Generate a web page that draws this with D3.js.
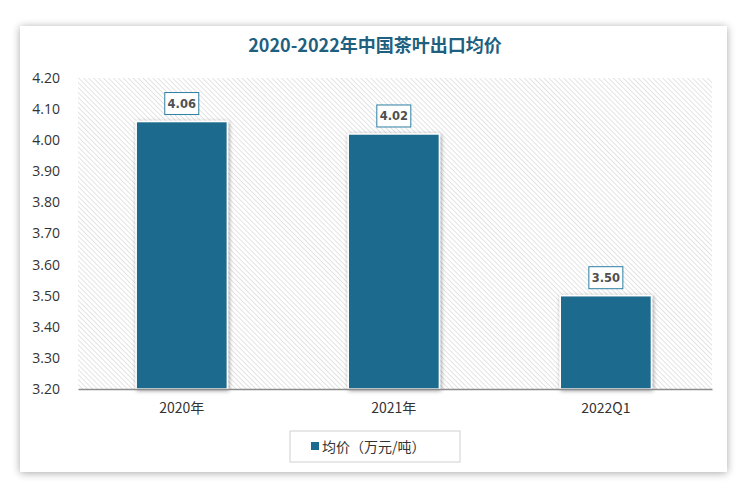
<!DOCTYPE html>
<html><head><meta charset="utf-8">
<script src="https://cdn.jsdelivr.net/npm/d3@7"></script>
<style>body{margin:0;background:#fff;} svg{display:block;}</style>
</head><body>
<script>
const categories = ["2020年", "2021年", "2022Q1"];
const values = [4.06, 4.02, 3.50];
const yTicks = [3.2, 3.3, 3.4, 3.5, 3.6, 3.7, 3.8, 3.9, 4.0, 4.1, 4.2];
const title = "2020-2022年中国茶叶出口均价";
const seriesName = "均价（万元/吨）";

const W = 750, H = 491;
const svg = d3.select("body").append("svg").attr("width", W).attr("height", H);
const defs = svg.append("defs");
const f = defs.append("filter").attr("id","sh").attr("x","-10%").attr("y","-10%").attr("width","120%").attr("height","120%");
f.append("feGaussianBlur").attr("in","SourceAlpha").attr("stdDeviation",4).attr("result","b");
f.append("feOffset").attr("in","b").attr("dx",0).attr("dy",1).attr("result","o");
f.append("feComponentTransfer").attr("in","o").attr("result","o2").append("feFuncA").attr("type","linear").attr("slope",0.35);
const m = f.append("feMerge"); m.append("feMergeNode").attr("in","o2"); m.append("feMergeNode").attr("in","SourceGraphic");

const f2 = defs.append("filter").attr("id","bsh").attr("x","-20%").attr("y","-20%").attr("width","140%").attr("height","140%");
f2.append("feGaussianBlur").attr("in","SourceAlpha").attr("stdDeviation",2).attr("result","b");
f2.append("feOffset").attr("in","b").attr("dx",1).attr("dy",1).attr("result","o");
f2.append("feComponentTransfer").attr("in","o").attr("result","o2").append("feFuncA").attr("type","linear").attr("slope",0.4);
const m2 = f2.append("feMerge"); m2.append("feMergeNode").attr("in","o2"); m2.append("feMergeNode").attr("in","SourceGraphic");

const pat = defs.append("pattern").attr("id","hatch").attr("patternUnits","userSpaceOnUse")
  .attr("width",3.5).attr("height",3.5).attr("patternTransform","rotate(-45)");
pat.append("rect").attr("width",3.5).attr("height",3.5).attr("fill","#fff");
pat.append("line").attr("x1",0).attr("y1",0).attr("x2",0).attr("y2",3.5).attr("stroke","#d6d6d6").attr("stroke-width",1.3);

// card
svg.append("rect").attr("x",20).attr("y",26).attr("width",707).attr("height",446)
  .attr("fill","#fff").attr("filter","url(#sh)");

svg.append("text").attr("x",375).attr("y",52).attr("text-anchor","middle")
  .attr("font-family","'Noto Sans CJK SC', sans-serif").attr("font-weight","bold")
  .attr("font-size",18).attr("fill","#1f5f80").text(title);

const x0 = 78, x1 = 712, yTop = 78, yBot = 389;
const x = d3.scaleBand().domain(categories).range([x0, x1]).paddingInner(0.57).paddingOuter(0.28).align(0.49);
const y = d3.scaleLinear().domain([3.2, 4.2]).range([yBot, yTop]);

svg.append("rect").attr("x",x0).attr("y",yTop).attr("width",x1-x0).attr("height",yBot-yTop).attr("fill","url(#hatch)");

const yAxis = d3.axisLeft(y).tickValues(yTicks).tickFormat(d3.format(".2f")).tickSize(0).tickPadding(18);
const ga = svg.append("g").attr("transform",`translate(${x0},0)`).call(yAxis);
ga.select(".domain").remove();
ga.selectAll("text").attr("font-family","'Open Sans','Noto Sans',sans-serif").attr("font-size",14).attr("fill","#333");

const bars = svg.append("g");
categories.forEach((c,i)=>{
  bars.append("rect").attr("x",x(c)).attr("y",y(values[i])).attr("width",x.bandwidth()).attr("height",yBot-y(values[i]))
    .attr("fill","#1c6b8e").attr("stroke","#fff").attr("stroke-width",1.5).attr("filter","url(#bsh)");
});

const xAxis = d3.axisBottom(x).tickSize(0).tickPadding(14);
const gx = svg.append("g").attr("transform",`translate(0,${yBot})`).call(xAxis);
gx.select(".domain").attr("stroke","#8c8c8c").attr("stroke-width",1.5);
gx.selectAll("text").attr("font-family","'Noto Sans CJK SC',sans-serif").attr("font-size",14).attr("fill","#333");

const lab = svg.append("g");
categories.forEach((c,i)=>{
  const cx = x(c)+x.bandwidth()/2, ty = y(values[i]);
  lab.append("rect").attr("x",cx-17).attr("y",ty-29).attr("width",34).attr("height",22)
    .attr("fill","#fff").attr("stroke","#2d7fa3").attr("stroke-width",1);
  lab.append("text").attr("x",cx).attr("y",ty-13.5).attr("text-anchor","middle")
    .attr("font-family","'DejaVu Sans',sans-serif").attr("font-weight","bold").attr("font-size",11.5)
    .attr("fill","#505050").text(d3.format(".2f")(values[i]));
});

// legend
const lg = svg.append("g");
lg.append("rect").attr("x",290).attr("y",431).attr("width",170).attr("height",31).attr("fill","#fff").attr("stroke","#d0d0d0");
lg.append("rect").attr("x",311).attr("y",442).attr("width",8).attr("height",8).attr("fill","#1c6b8e");
lg.append("text").attr("x",322).attr("y",452).attr("font-family","'Noto Sans CJK SC',sans-serif").attr("font-size",14)
  .attr("fill","#333").text(seriesName);
</script>
</body></html>
